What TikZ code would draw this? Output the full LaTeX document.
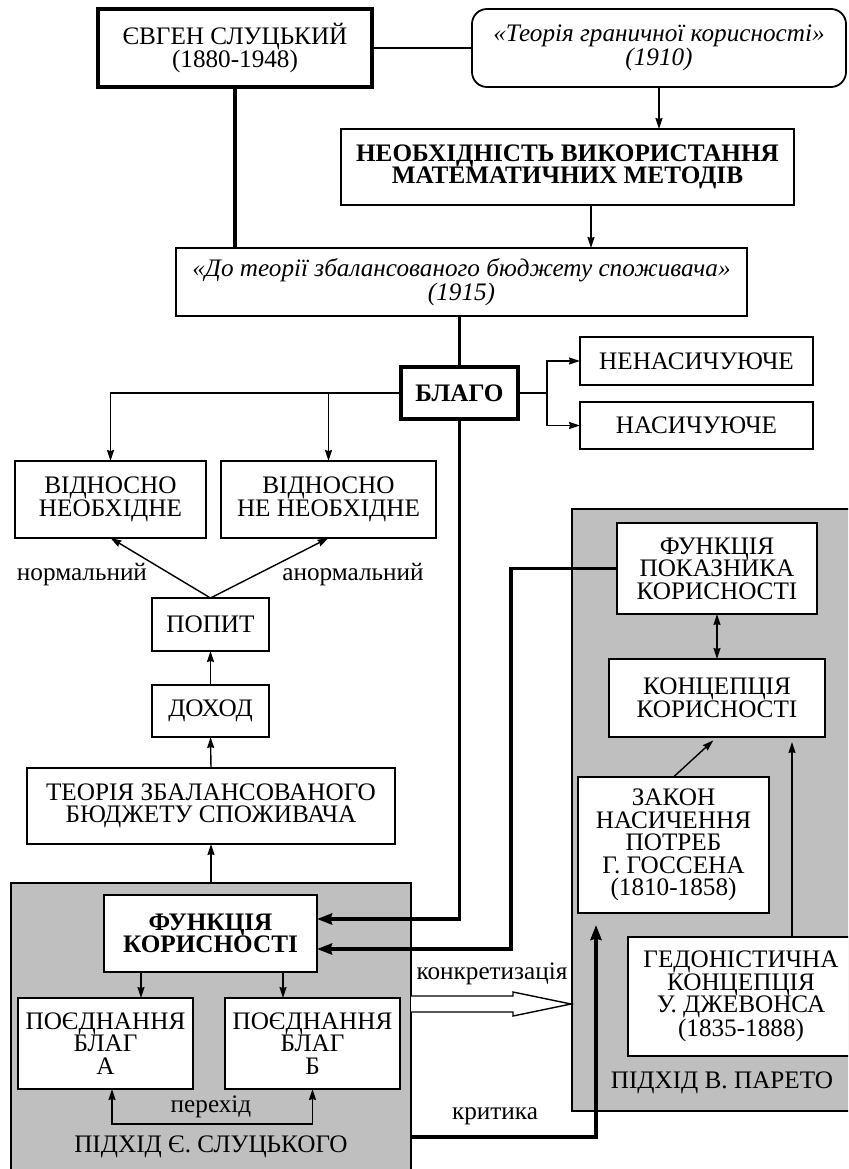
\documentclass[tikz,border=0pt]{standalone}
\usepackage{fontspec}
\setmainfont{Liberation Serif}
\usetikzlibrary{arrows.meta}
\begin{document}
\begin{tikzpicture}[x=1pt,y=-1pt,
  txt/.style={font=\fontsize{25.2}{22.5}\selectfont,align=center,inner sep=0pt},
  itxt/.style={font=\fontsize{25.2}{22.5}\selectfont\itshape},
  btxt/.style={font=\fontsize{25.2}{22.5}\selectfont\bfseries},
  box/.style={txt,draw,line width=1.8pt,fill=white,outer sep=0pt},
  heavybox/.style={box,line width=3.5pt},
  region/.style={draw,line width=1.8pt,fill=black!25,inner sep=0pt,outer sep=0pt},
  conn/.style={line width=1.4pt,-{Stealth[length=11pt,width=7pt,inset=1pt]}},
  twoway/.style={line width=1.4pt,{Stealth[length=11pt,width=7pt,inset=1pt]}-{Stealth[length=11pt,width=7pt,inset=1pt]}},
  heavyconn/.style={line width=3.5pt,-{Stealth[length=15pt,width=11pt,inset=1.5pt]}}]
\useasboundingbox (0,0) rectangle (848,1169);
\clip (0,0) rectangle (848,1169);
% grey areas
\node[region,minimum width=400,minimum height=297] (slreg) at (211,1031.5) {};
\node[region,minimum width=288,minimum height=602] (pareto) at (716,810) {};
% top
\node[heavybox,minimum width=274,minimum height=78] (slu) at (235,48) {ЄВГЕН СЛУЦЬКИЙ\\(1880-1948)};
\node[box,itxt,rounded corners=15,minimum width=374,minimum height=78] (teor) at (659,48) {«Теорія граничної корисності»\\(1910)};
\node[box,btxt,minimum width=453,minimum height=76] (neob) at (567.5,167) {НЕОБХІДНІСТЬ ВИКОРИСТАННЯ\\МАТЕМАТИЧНИХ МЕТОДІВ};
\node[box,itxt,minimum width=571,minimum height=68] (dot) at (461.5,282) {«До теорії збалансованого бюджету споживача»\\(1915)};
\node[heavybox,btxt,minimum width=117,minimum height=52] (blago) at (459.5,393) {БЛАГО};
\node[box,minimum width=233,minimum height=48] (nenas) at (696.5,361) {НЕНАСИЧУЮЧЕ};
\node[box,minimum width=233,minimum height=47] (nas) at (696.5,425.5) {НАСИЧУЮЧЕ};
\node[box,minimum width=191,minimum height=77] (vn1) at (110.5,499.5) {ВІДНОСНО\\НЕОБХІДНЕ};
\node[box,minimum width=215,minimum height=77] (vn2) at (328.5,499.5) {ВІДНОСНО\\НЕ НЕОБХІДНЕ};
\node[box,minimum width=117,minimum height=53] (popyt) at (210.5,624.5) {ПОПИТ};
\node[box,minimum width=117,minimum height=52] (dohid) at (210.5,711) {ДОХОД};
\node[box,minimum width=368,minimum height=76] (tzb) at (211,806) {ТЕОРІЯ ЗБАЛАНСОВАНОГО\\БЮДЖЕТУ СПОЖИВАЧА};
% Slutsky side
\node[box,btxt,minimum width=213,minimum height=77] (fk) at (210.5,933.5) {ФУНКЦІЯ\\КОРИСНОСТІ};
\node[box,minimum width=175,minimum height=91] (pa) at (105.5,1043.5) {ПОЄДНАННЯ\\БЛАГ\\А};
\node[box,minimum width=175,minimum height=91] (pb) at (312.5,1043.5) {ПОЄДНАННЯ\\БЛАГ\\Б};
\node[txt] (lsl) at (211,1147) {ПІДХІД Є. СЛУЦЬКОГО};
% Pareto side
\node[box,minimum width=200,minimum height=91] (fpk) at (717,568.5) {ФУНКЦІЯ\\ПОКАЗНИКА\\КОРИСНОСТІ};
\node[box,minimum width=216,minimum height=78] (konc) at (717,698) {КОНЦЕПЦІЯ\\КОРИСНОСТІ};
\node[box,minimum width=191,minimum height=136] (zakon) at (673.5,845) {ЗАКОН\\НАСИЧЕННЯ\\ПОТРЕБ\\Г. ГОССЕНА\\(1810-1858)};
\node[box,minimum width=226,minimum height=119] (hedon) at (741,996.5) {ГЕДОНІСТИЧНА\\КОНЦЕПЦІЯ\\У. ДЖЕВОНСА\\(1835-1888)};
\node[txt] (lpar) at (722,1083) {ПІДХІД В. ПАРЕТО};
% labels
\node[txt] (lnorm) at (82,575) {нормальний};
\node[txt] (lanorm) at (353,575) {анормальний};
\node[txt] (lper) at (211,1107) {перехід};
\node[txt] (lkonk) at (492,974) {конкретизація};
\node[txt] (lkryt) at (495,1116) {критика};
% connectors
\draw[line width=1.4pt] (slu.east) -- (teor.west);
\draw[conn] (teor.south) -- (teor.south |- neob.north);
\draw[conn] ([xshift=23.5]neob.south) -- ([xshift=23.5]neob.south |- dot.north);
\draw[line width=3.5pt] (slu.south) -- (slu.south |- dot.north);
\draw[line width=3.5pt] (blago.north |- dot.south) -- (blago.north);
\draw[heavyconn] (blago.south) |- ([yshift=14.5]fk.east);
\draw[heavyconn] (fpk.west) -- ++(-106,0) |- ([yshift=-15.5]fk.east);
\draw[conn] (blago.west) -| (vn1.north);
\draw[conn] (vn2.north |- blago.west) -- (vn2.north);
\draw[line width=1.4pt] (blago.east) -- ++(29,0) coordinate (bj);
\draw[conn] (bj) |- (nenas.west);
\draw[conn] (bj) |- (nas.west);
\draw[conn] (popyt.north) -- (vn1.south);
\draw[conn] (popyt.north) -- (vn2.south);
\draw[conn] (dohid.north) -- (popyt.south);
\draw[conn] (tzb.north) -- (dohid.south);
\draw[conn] (slreg.north) -- (tzb.south);
\draw[conn] ([xshift=37]fk.south west) -- ([xshift=37]fk.south west |- pa.north);
\draw[conn] ([xshift=-34]fk.south east) -- ([xshift=-34]fk.south east |- pb.north);
\draw[twoway] ([xshift=6.5]pa.south) -- ++(0,35) -| (pb.south);
\filldraw[fill=white,line width=1.4pt] ([yshift=35.5]slreg.east) -- ++(102,0) -- ++(0,-4)
  -- ++(58,12) -- ++(-58,12) -- ++(0,-4) -- ++(-102,0);
\coordinate (krt) at (596,925);
\draw[heavyconn] ([yshift=-105.5]slreg.east) -| (krt);
\draw[twoway] (fpk.south) -- (konc.north);
\draw[conn,shorten >=5pt] (zakon.north) -- (konc.south);
\draw[conn,shorten >=5pt] ([xshift=51]hedon.north) -- ([xshift=51]hedon.north |- konc.south);
\end{tikzpicture}
\end{document}
